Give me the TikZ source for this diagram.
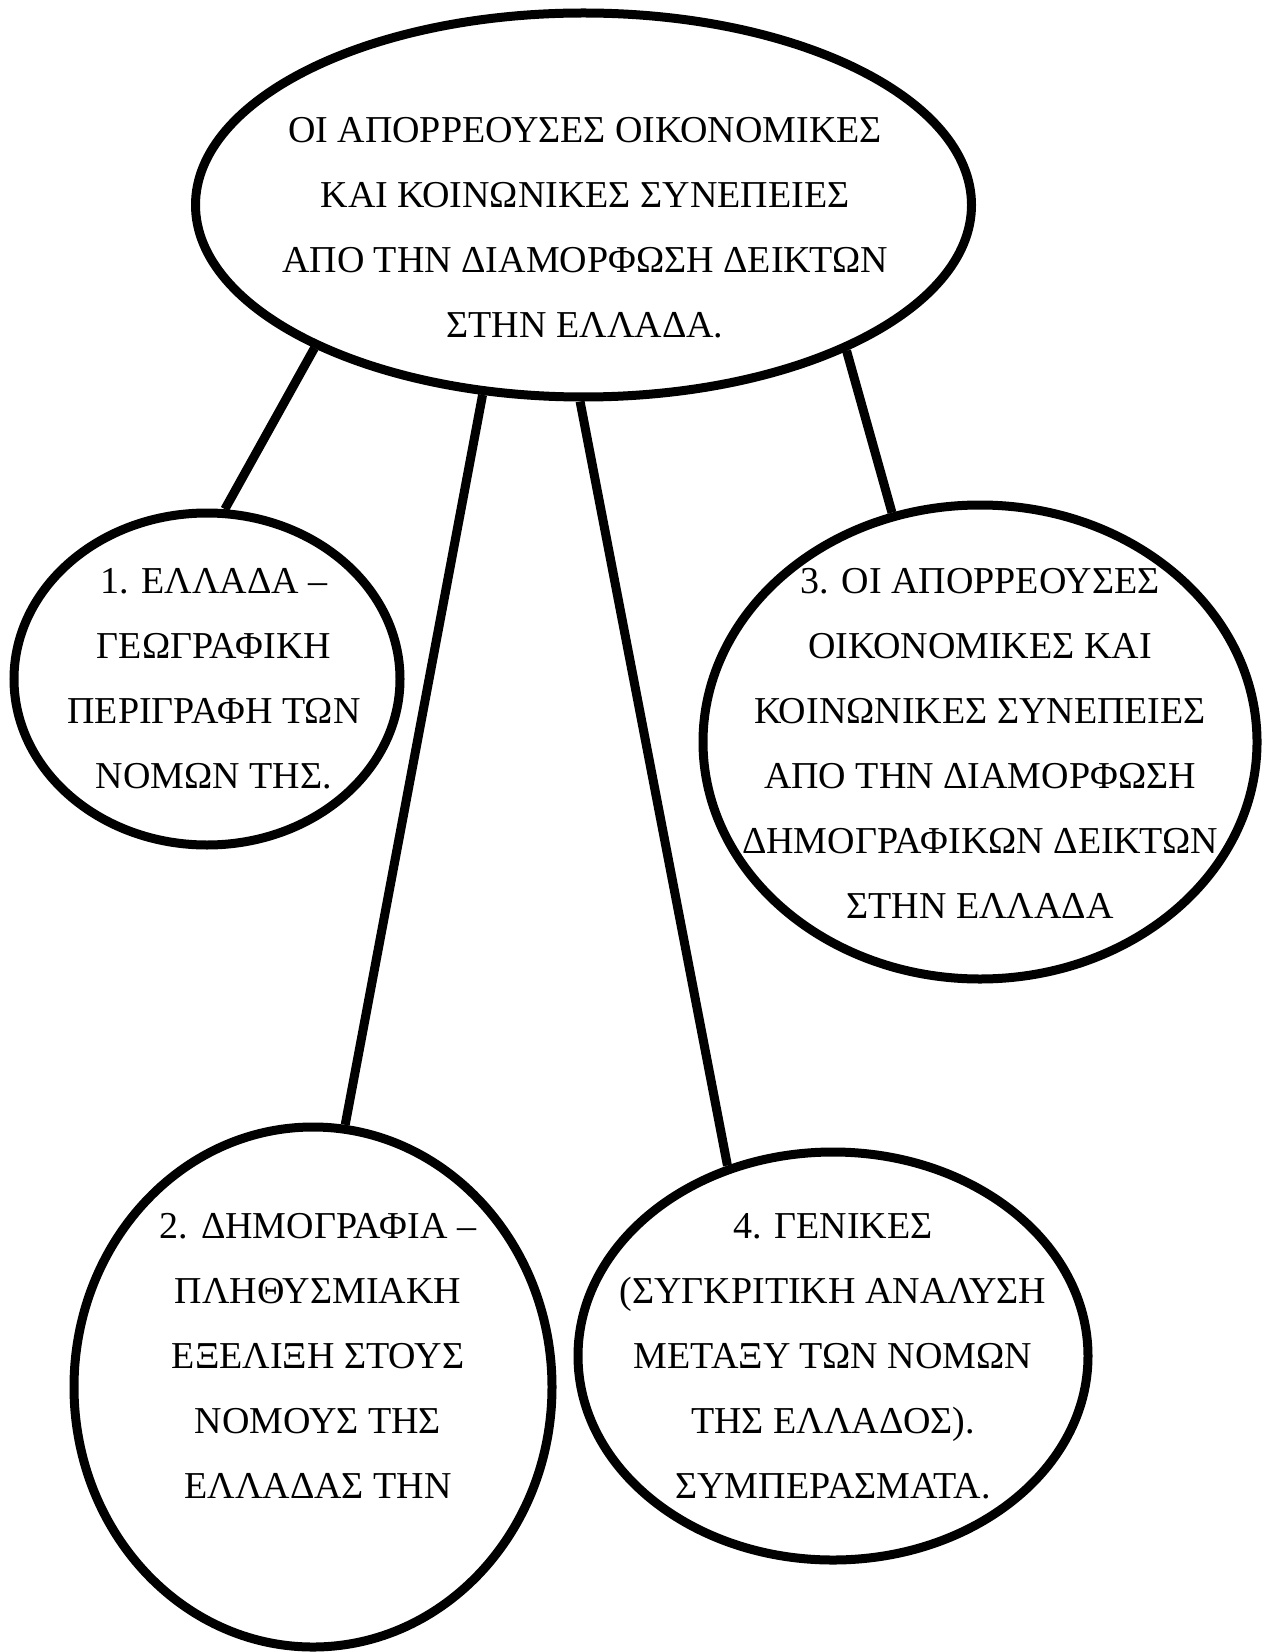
\documentclass[tikz,border=0pt]{standalone}
\usepackage{fontspec}
\setmainfont{Liberation Serif}
\usetikzlibrary{shapes.geometric}

\begin{document}
\begin{tikzpicture}[
    x=0.5pt, y=-0.5pt,
    bubble/.style={ellipse, draw, line width=4.5pt, inner sep=0pt},
    bubbletext/.style={align=center, anchor=north, inner sep=0pt, font=\fontsize{19}{32.5}\selectfont},
    link/.style={line width=4.5pt}
]
\useasboundingbox (0,0) rectangle (1264,1652);

% Main topic
\node[bubble, minimum width=388pt, minimum height=192pt] (topic) at (583.5,205) {};
\node[bubbletext] (topic-text) at (585,117) {ΟΙ ΑΠΟΡΡΕΟΥΣΕΣ ΟΙΚΟΝΟΜΙΚΕΣ\\ΚΑΙ ΚΟΙΝΩΝΙΚΕΣ ΣΥΝΕΠΕΙΕΣ\\ΑΠΟ ΤΗΝ ΔΙΑΜΟΡΦΩΣΗ ΔΕΙΚΤΩΝ\\ΣΤΗΝ ΕΛΛΑΔΑ.};

% Chapters
\node[bubble, minimum width=193pt, minimum height=166pt] (geo) at (207,679) {};
\node[bubbletext] (geo-text) at (214,568) {1. ΕΛΛΑΔΑ –\\ΓΕΩΓΡΑΦΙΚΗ\\ΠΕΡΙΓΡΑΦΗ ΤΩΝ\\ΝΟΜΩΝ ΤΗΣ.};

\node[bubble, minimum width=277pt, minimum height=237pt] (effects) at (980,742) {};
\node[bubbletext] (effects-text) at (980,568) {3. ΟΙ ΑΠΟΡΡΕΟΥΣΕΣ\\ΟΙΚΟΝΟΜΙΚΕΣ ΚΑΙ\\ΚΟΙΝΩΝΙΚΕΣ ΣΥΝΕΠΕΙΕΣ\\ΑΠΟ ΤΗΝ ΔΙΑΜΟΡΦΩΣΗ\\ΔΗΜΟΓΡΑΦΙΚΩΝ ΔΕΙΚΤΩΝ\\ΣΤΗΝ ΕΛΛΑΔΑ};

\node[bubble, minimum width=239pt, minimum height=260pt] (demo) at (313,1387) {};
\node[bubbletext] (demo-text) at (318,1213) {2. ΔΗΜΟΓΡΑΦΙΑ –\\ΠΛΗΘΥΣΜΙΑΚΗ\\ΕΞΕΛΙΞΗ ΣΤΟΥΣ\\ΝΟΜΟΥΣ ΤΗΣ\\ΕΛΛΑΔΑΣ ΤΗΝ};

\node[bubble, minimum width=255pt, minimum height=204pt] (general) at (833,1356) {};
\node[bubbletext] (general-text) at (833,1213) {4. ΓΕΝΙΚΕΣ\\(ΣΥΓΚΡΙΤΙΚΗ ΑΝΑΛΥΣΗ\\ΜΕΤΑΞΥ ΤΩΝ ΝΟΜΩΝ\\ΤΗΣ ΕΛΛΑΔΟΣ).\\ΣΥΜΠΕΡΑΣΜΑΤΑ.};

% Links
\draw[link] (topic.208.6) -- (geo.84.2);
\draw[link] (topic.242.8) -- (demo.83.7);
\draw[link] (topic.269.6) -- (general.119.5);
\draw[link] (topic.331.4) -- (effects.111.4);

\end{tikzpicture}
\end{document}
